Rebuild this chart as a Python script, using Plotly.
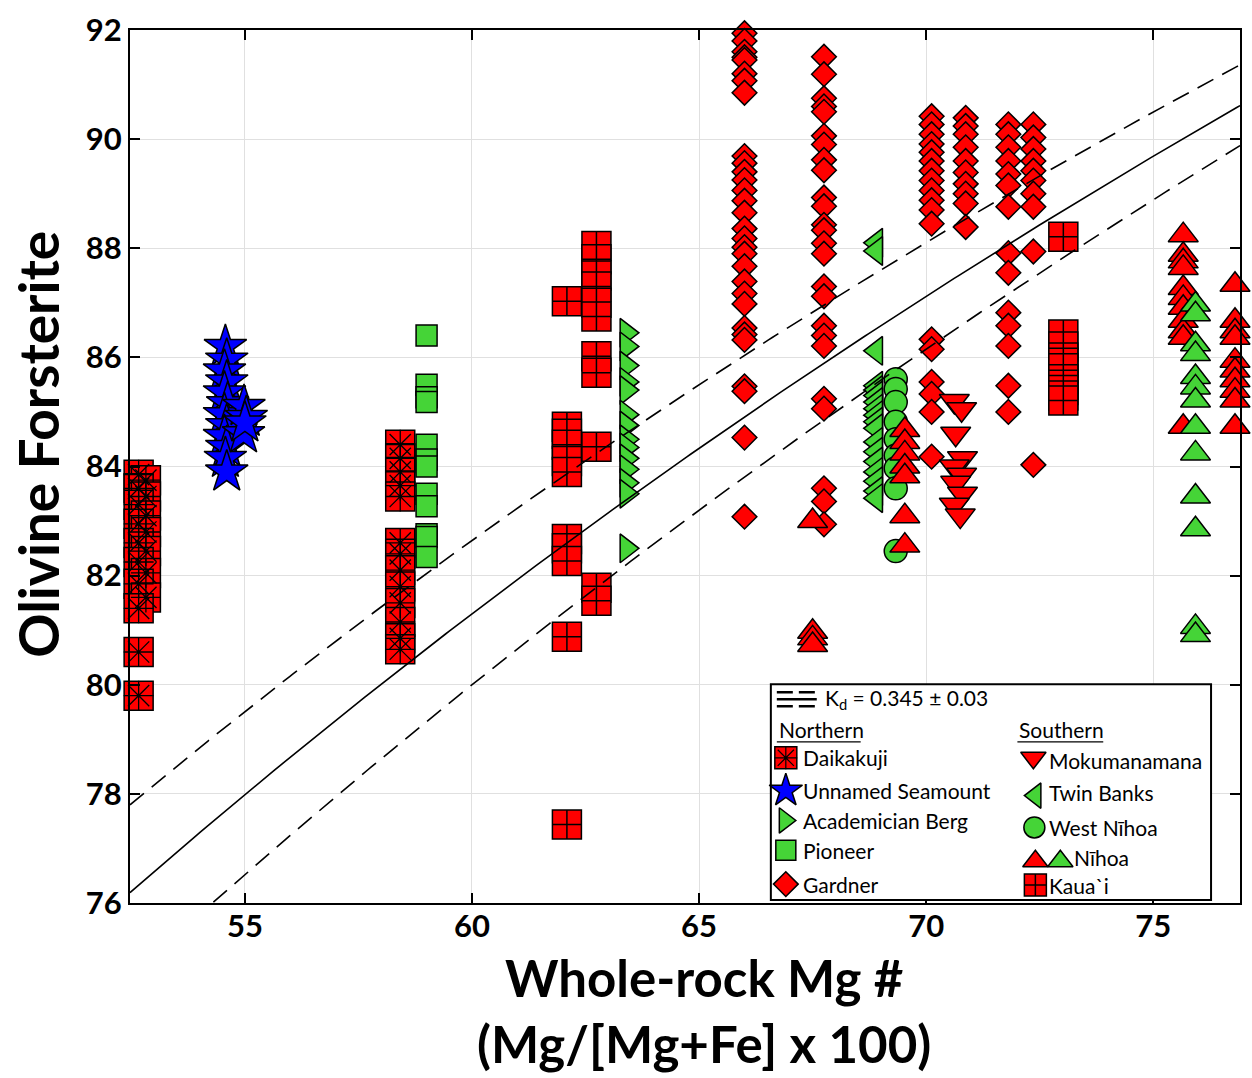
import numpy as np
import plotly.graph_objects as go

# ---------------- DATA ----------------
KD = 0.345
KD_ERR = 0.03

daik_x = [52.66, 52.82, 52.66, 52.82, 52.66, 52.82, 52.66, 52.82, 52.66, 52.82, 52.66, 52.82, 52.66, 52.82, 52.66, 52.66, 52.66,
          58.42, 58.42, 58.42, 58.42, 58.42, 58.42, 58.42, 58.42, 58.42, 58.42, 58.42, 58.42, 58.42]
daik_y = [83.85, 83.75, 83.6, 83.45, 83.3, 83.1, 82.95, 82.8, 82.6, 82.45, 82.25, 82.05, 81.85, 81.6, 81.4, 80.6, 79.8,
          84.4, 84.15, 83.9, 83.65, 83.45, 82.6, 82.4, 82.1, 81.8, 81.5, 81.15, 80.85, 80.65]

uns_x = [54.57, 54.6, 54.55, 54.6, 54.55, 54.62, 54.55, 54.6, 54.55, 54.6, 54.57, 54.6, 54.98, 55.03, 54.97, 55.0]
uns_y = [86.2, 85.95, 85.75, 85.55, 85.35, 85.15, 84.95, 84.75, 84.55, 84.35, 84.15, 83.9, 85.1, 84.9, 84.6, 84.8]

ab_x = [63.4] * 14
ab_y = [86.45, 86.2, 85.85, 85.55, 85.4, 84.95, 84.75, 84.5, 84.35, 84.15, 83.95, 83.7, 83.5, 82.5]

pio_x = [59.0] * 12
pio_y = [86.4, 85.5, 85.27, 85.18, 84.4, 84.13, 84.0, 83.5, 83.27, 82.76, 82.71, 82.34]

gar_x = ([66.0] * 30 + [67.75] * 25 + [70.12] * 18 + [70.87] * 10 + [71.81] * 14 + [72.36] * 10)
gar_y = [91.94, 91.8, 91.6, 91.5, 91.45, 91.2, 91.07, 90.85, 89.69, 89.56, 89.4, 89.25, 89.06, 88.87, 88.65,
         88.36, 88.18, 88.02, 87.9, 87.67, 87.39, 87.17, 86.98, 86.54, 86.42, 86.32, 85.47, 85.38, 84.53, 83.08,
         91.51, 91.19, 90.75, 90.6, 90.5, 90.06, 89.9, 89.62, 89.43, 88.93, 88.77, 88.43, 88.33, 88.09, 87.9,
         87.3, 87.12, 86.58, 86.4, 86.21, 85.24, 85.06, 83.6, 83.36, 82.94,
         90.42, 90.27, 90.09, 89.91, 89.76, 89.6, 89.42, 89.24, 89.06, 88.88, 88.7, 88.45, 86.33, 86.15, 85.55,
         85.33, 85.0, 84.18,
         90.39, 90.24, 90.09, 89.85, 89.6, 89.39, 89.18, 89.0, 88.82, 88.39,
         90.27, 90.09, 89.85, 89.6, 89.36, 89.15, 88.76, 87.91, 87.55, 86.82, 86.58, 86.21, 85.48, 85.0,
         90.27, 90.03, 89.82, 89.6, 89.42, 89.24, 89.0, 88.76, 87.94, 84.03]

mok_x = [70.62, 70.78, 70.65, 70.8, 70.62, 70.78, 70.65, 70.8, 70.62, 70.75]
mok_y = [85.2, 85.05, 84.6, 84.15, 84.0, 83.85, 83.7, 83.5, 83.3, 83.1]

tb_x = [68.9] * 18
tb_y = [88.1, 87.95, 86.12, 85.48, 85.4, 85.3, 85.18, 85.06, 84.94, 84.82, 84.7, 84.45, 84.27, 84.09, 83.9,
        83.73, 83.55, 83.42]

wn_x = [69.33] * 9
wn_y = [85.6, 85.42, 85.18, 84.82, 84.5, 84.2, 83.97, 83.6, 82.45]

nih_red_x = [67.5] * 4 + [69.53] * 7 + [75.66] * 11 + [76.8] * 10
nih_red_y = [83.0, 80.97, 80.85, 80.73,
             84.67, 84.45, 84.24, 84.0, 83.82, 83.09, 82.55,
             88.24, 87.88, 87.76, 87.64, 87.27, 87.09, 86.91, 86.67, 86.48, 86.36, 84.73,
             87.33, 86.67, 86.48, 86.36, 85.94, 85.76, 85.58, 85.39, 85.21, 84.73]

nih_grn_x = [75.93] * 13
nih_grn_y = [86.97, 86.79, 86.24, 86.06, 85.64, 85.45, 85.21, 84.73, 84.24, 83.45, 82.85, 81.06, 80.91]

kau_x = [62.09] * 11 + [62.74] * 11 + [73.02] * 11
kau_y = [87.03, 84.73, 84.6, 84.4, 84.1, 83.9, 82.67, 82.5, 82.27, 80.88, 77.44,
         88.04, 87.8, 87.5, 87.3, 87.0, 86.75, 86.02, 85.72, 84.36, 81.78, 81.54,
         88.21, 86.42, 86.2, 86.0, 85.9, 85.8, 85.6, 85.5, 85.4, 85.3, 85.21]

x_ticks = [55, 60, 65, 70, 75]
y_ticks = [76, 78, 80, 82, 84, 86, 88, 90, 92]
X_RANGE = [52.47, 76.91]
Y_RANGE = [76, 92]

# ---------------- STYLE ----------------
W, H = 1252, 1078
PL, PR, PT, PB = 130, 1242, 25, 903
RED = '#FF0000'
GREEN = '#45D437'
BLUE = '#0000FF'
FONT = 'Lato'

fig = go.Figure()


def add(x, y, symbol, size, color, xa='x', ya='y', lw=1.5, lc='black'):
    fig.add_trace(go.Scatter(
        x=x, y=y, mode='markers', xaxis=xa, yaxis=ya,
        marker=dict(symbol=symbol, size=size, color=color, line=dict(color=lc, width=lw)),
        cliponaxis=False, showlegend=False, hoverinfo='skip'))


# data marks
add(daik_x, daik_y, 'square', 29, RED)
add(daik_x, daik_y, 'asterisk-open', 25, 'black', lw=1.3)
add(uns_x, uns_y, 'star', 32, BLUE)
add(ab_x, ab_y, 'triangle-right', 25, GREEN)
add(pio_x, pio_y, 'square', 21, GREEN)
add(gar_x, gar_y, 'diamond', 19, RED)
add(tb_x, tb_y, 'triangle-left', 25, GREEN)
add(wn_x, wn_y, 'circle', 23, GREEN)
add(mok_x, mok_y, 'triangle-down', 26, RED)
add(nih_red_x, nih_red_y, 'triangle-up', 26, RED)
add(nih_grn_x, nih_grn_y, 'triangle-up', 26, GREEN)
add(kau_x, kau_y, 'square-cross', 29, RED)

# Kd model curves
xs = np.linspace(X_RANGE[0], X_RANGE[1], 300)
for kd, dash in [(KD, 'solid'), (KD - KD_ERR, '18px,10px'), (KD + KD_ERR, '18px,10px')]:
    fo = 100.0 / (1.0 + kd * (100.0 - xs) / xs)
    fig.add_trace(go.Scatter(x=xs, y=fo, mode='lines', line=dict(color='black', width=1.6, dash=dash),
                             showlegend=False, hoverinfo='skip'))

# ---------------- LEGEND (pixel-space overlay axis) ----------------
shapes = []
annots = []
shapes.append(dict(type='rect', xref='x2', yref='y2', x0=772, x1=1213, y0=683, y1=900,
                   line=dict(color='black', width=2), fillcolor='white', layer='between'))
# Kd icon
for yy, dsh in [(691, 'dash'), (698, 'solid'), (705, 'dash')]:
    shapes.append(dict(type='line', xref='x2', yref='y2', x0=778, x1=818, y0=yy, y1=yy,
                       line=dict(color='black', width=2.5, dash=dsh if dsh == 'solid' else '16px,6px')))
annots.append(dict(xref='x2', yref='y2', x=824, y=698, xanchor='left', yanchor='middle', showarrow=False,
                   text='K<sub>d</sub> = 0.345 ± 0.03', font=dict(family=FONT, size=21, color='black')))
for txt, xx, w in [('Northern', 778, 84), ('Southern', 1019, 86)]:
    annots.append(dict(xref='x2', yref='y2', x=xx, y=729, xanchor='left', yanchor='middle', showarrow=False,
                       text=txt, font=dict(family=FONT, size=21, color='black')))
    shapes.append(dict(type='line', xref='x2', yref='y2', x0=xx, x1=xx + w, y0=741, y1=741,
                       line=dict(color='black', width=1.2)))

leg_n = [('Daikakuji', 757), ('Unnamed Seamount', 790), ('Academician Berg', 820), ('Pioneer', 850), ('Gardner', 884)]
leg_s = [('Mokumanamana', 760), ('Twin Banks', 792), ('West Nīhoa', 827), ('Nīhoa', 857), ('Kaua`i', 885)]
for txt, yy in leg_n:
    annots.append(dict(xref='x2', yref='y2', x=802, y=yy, xanchor='left', yanchor='middle', showarrow=False,
                       text=txt, font=dict(family=FONT, size=21, color='black')))
for txt, yy in leg_s:
    xx = 1074 if txt == 'Nīhoa' else 1049
    annots.append(dict(xref='x2', yref='y2', x=xx, y=yy, xanchor='left', yanchor='middle', showarrow=False,
                       text=txt, font=dict(family=FONT, size=21, color='black')))

add([787], [757], 'square', 22, RED, 'x2', 'y2')
add([787], [757], 'asterisk-open', 19, 'black', 'x2', 'y2', lw=1.2)
add([787], [790], 'star', 25, BLUE, 'x2', 'y2')
add([786], [820], 'triangle-right', 22, GREEN, 'x2', 'y2')
add([787], [850], 'square', 20, GREEN, 'x2', 'y2')
add([787], [884], 'diamond', 19, RED, 'x2', 'y2')
add([1035], [757], 'triangle-down', 22, RED, 'x2', 'y2')
add([1037], [795], 'triangle-left', 22, GREEN, 'x2', 'y2')
add([1036], [827], 'circle', 21, GREEN, 'x2', 'y2')
add([1037, 1062], [861], 'triangle-up', 22, RED, 'x2', 'y2')
add([1062], [861], 'triangle-up', 22, GREEN, 'x2', 'y2')
add([1037], [885], 'square-cross', 22, RED, 'x2', 'y2')


# ---------------- AXIS TITLES ----------------
def px_x(p):
    return (p - PL) / (PR - PL)


def px_y(p):
    return (PB - p) / (PB - PT)


annots.append(dict(xref='paper', yref='paper', x=px_x(705), y=px_y(1077), xanchor='center', yanchor='bottom',
                   showarrow=False, text='<b>Whole-rock Mg #</b><br><b>(Mg/[Mg+Fe] x 100)</b>',
                   font=dict(family=FONT, size=51, color='black')))
annots.append(dict(xref='paper', yref='paper', x=px_x(37), y=px_y(442), xanchor='center', yanchor='middle',
                   showarrow=False, textangle=-90, text='<b>Olivine Forsterite</b>',
                   font=dict(family=FONT, size=55, color='black')))

axis_common = dict(showline=True, linecolor='black', linewidth=2, mirror='ticks', ticks='inside',
                   ticklen=10, tickwidth=1.5, tickcolor='black', showgrid=True, gridcolor='#E0E0E0',
                   gridwidth=1.3, zeroline=False,
                   tickfont=dict(family=FONT, size=31, color='black', weight='bold'))

fig.update_layout(
    width=W, height=H,
    margin=dict(l=PL, r=W - PR, t=PT, b=H - PB),
    paper_bgcolor='white', plot_bgcolor='rgba(0,0,0,0)',
    showlegend=False,
    xaxis=dict(range=X_RANGE, tickvals=x_ticks, ticklabelstandoff=-5, **axis_common),
    yaxis=dict(range=Y_RANGE, tickvals=y_ticks, **axis_common),
    xaxis2=dict(range=[PL, PR], domain=[0, 1], anchor='y2', visible=False, showgrid=False, zeroline=False),
    yaxis2=dict(range=[PB, PT], domain=[0, 1], anchor='x2', visible=False, showgrid=False, zeroline=False),
    shapes=shapes, annotations=annots,
)

fig.write_html('out.html', config={'displayModeBar': False},
               post_script="document.body.style.margin='0';document.body.style.padding='0';"
                           "document.documentElement.style.overflow='hidden';")
